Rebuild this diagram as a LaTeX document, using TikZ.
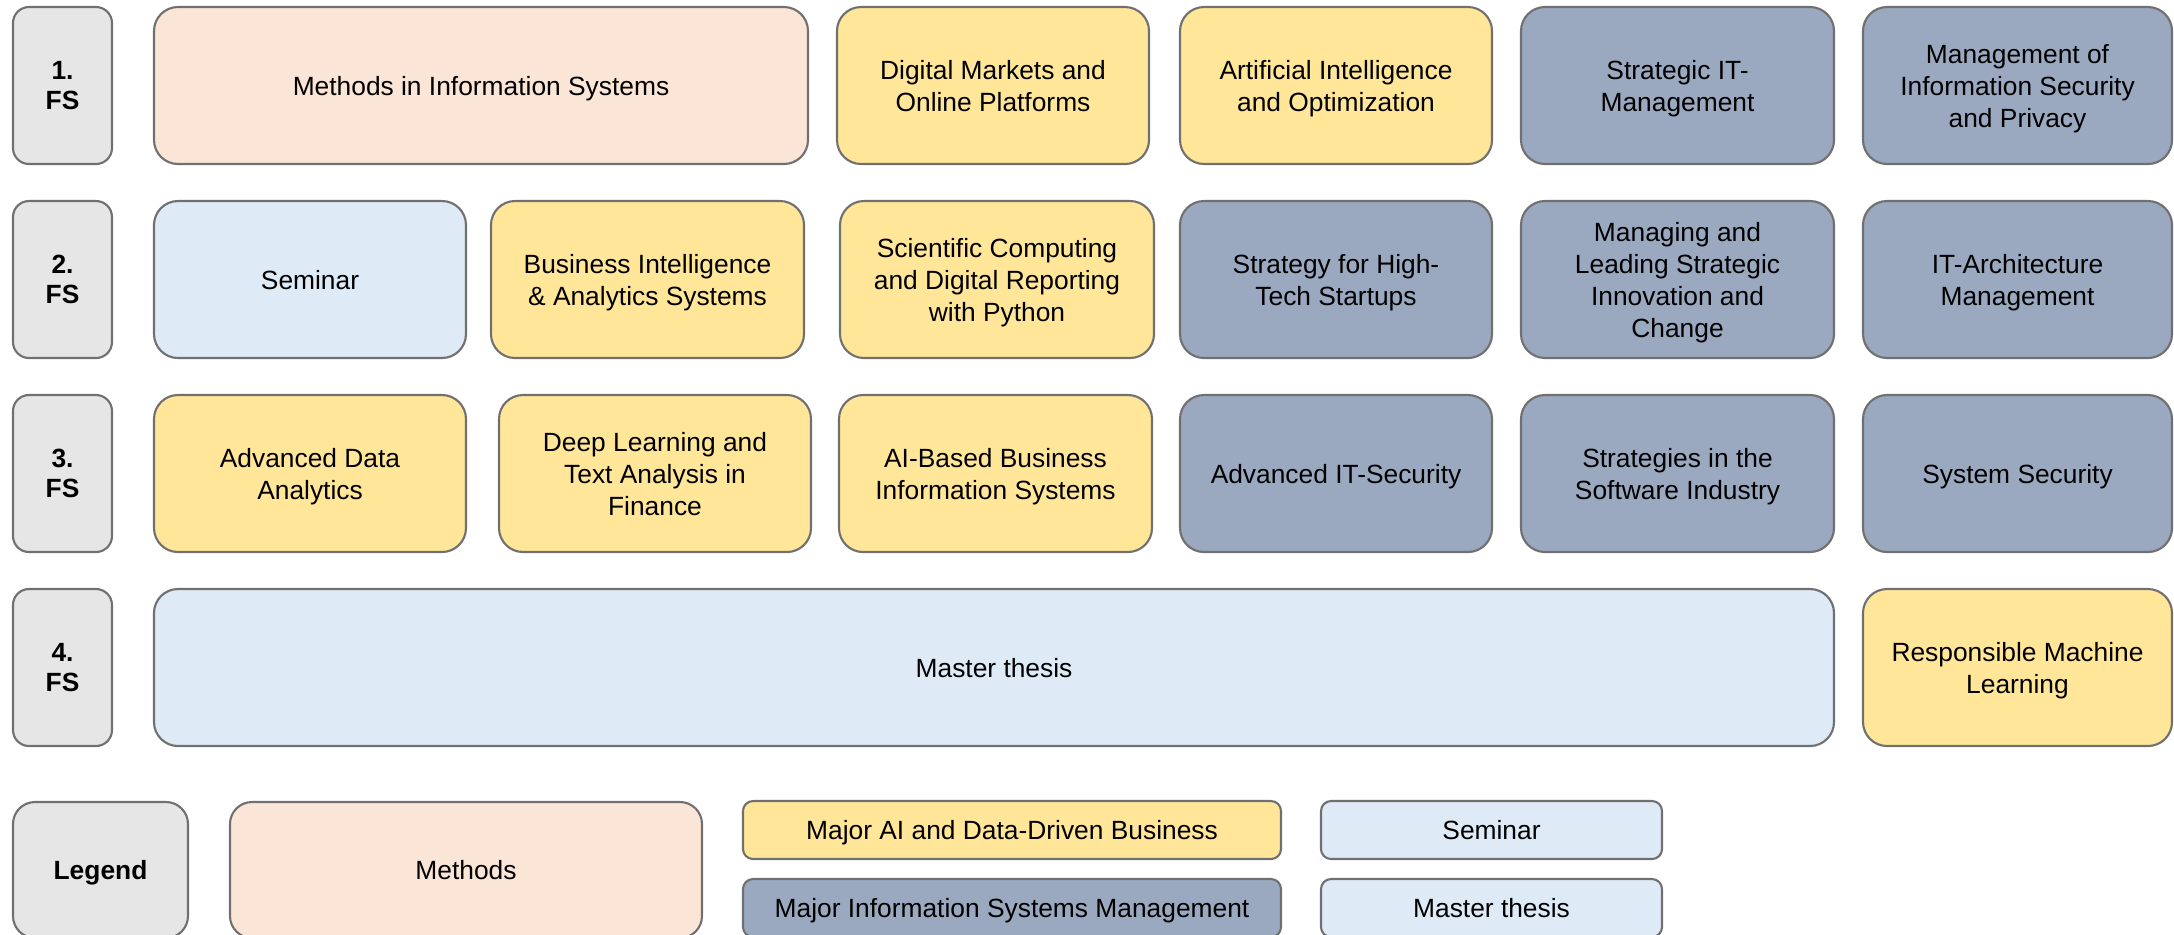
\documentclass[tikz,border=0pt]{standalone}
\usepackage{fontspec}
\setmainfont{Liberation Sans}
\usetikzlibrary{positioning}
\definecolor{labelgray}{HTML}{E6E6E6}
\definecolor{methodpeach}{HTML}{FBE5D6}
\definecolor{aiyellow}{HTML}{FFE699}
\definecolor{isblue}{HTML}{9AA9BF}
\definecolor{thesisblue}{HTML}{DEEAF6}
\definecolor{edgegray}{HTML}{707070}

\tikzset{
  box/.style={rectangle, draw=edgegray, line width=0.6pt, align=center, inner sep=0pt, text=black, text depth=0pt, font=\fontsize{7.5}{9.1}\selectfont},
  course/.style={box, rounded corners=0.24cm, minimum width=3.12cm, minimum height=1.57cm},
  semester/.style={box, fill=labelgray, rounded corners=0.16cm, minimum width=0.99cm, minimum height=1.57cm, text depth=-1.6pt, font=\fontsize{7.5}{8.65}\selectfont\bfseries},
  keybox/.style={box, rounded corners=0.1cm, minimum height=0.58cm},
  methods/.style={fill=methodpeach},
  aimajor/.style={fill=aiyellow},
  ismajor/.style={fill=isblue},
  seminar/.style={fill=thesisblue}
}

\begin{document}
\begin{tikzpicture}
\clip (0,0) rectangle (21.74,-9.34);

% Semester labels
\node[semester] (fs1) at (0.625,-0.855) {1.\\FS};
\node[semester] (fs2) at (0.625,-2.795) {2.\\FS};
\node[semester] (fs3) at (0.625,-4.735) {3.\\FS};
\node[semester] (fs4) at (0.625,-6.675) {4.\\FS};

% 1. FS
\node[course, methods, minimum width=6.54cm] (mis) at (4.81,-0.855) {Methods in Information Systems};
\node[course, aimajor] (dmop) at (9.93,-0.855) {Digital Markets and\\Online Platforms};
\node[course, aimajor] (aio) at (13.36,-0.855) {Artificial Intelligence\\and Optimization};
\node[course, ismajor, minimum width=3.13cm] (sitm) at (16.775,-0.855) {Strategic IT-\\Management};
\node[course, ismajor, minimum width=3.09cm] (misp) at (20.175,-0.855) {Management of\\Information Security\\and Privacy};

% 2. FS
\node[course, seminar] (sem) at (3.10,-2.795) {Seminar};
\node[course, aimajor, minimum width=3.13cm] (bias) at (6.475,-2.795) {Business Intelligence\\\& Analytics Systems};
\node[course, aimajor, minimum width=3.14cm] (scdr) at (9.97,-2.795) {Scientific Computing\\and Digital Reporting\\with Python};
\node[course, ismajor] (shts) at (13.36,-2.795) {Strategy for High-\\Tech Startups};
\node[course, ismajor, minimum width=3.13cm] (mlsi) at (16.775,-2.795) {Managing and\\Leading Strategic\\Innovation and\\Change};
\node[course, ismajor, minimum width=3.09cm] (itam) at (20.175,-2.795) {IT-Architecture\\Management};

% 3. FS
\node[course, aimajor] (ada) at (3.10,-4.735) {Advanced Data\\Analytics};
\node[course, aimajor] (dlta) at (6.55,-4.735) {Deep Learning and\\Text Analysis in\\Finance};
\node[course, aimajor, minimum width=3.13cm] (aibis) at (9.955,-4.735) {AI-Based Business\\Information Systems};
\node[course, ismajor] (aits) at (13.36,-4.735) {Advanced IT-Security};
\node[course, ismajor, minimum width=3.13cm] (ssi) at (16.775,-4.735) {Strategies in the\\Software Industry};
\node[course, ismajor, minimum width=3.09cm] (syss) at (20.175,-4.735) {System Security};

% 4. FS
\node[course, seminar, minimum width=16.80cm] (thesis) at (9.94,-6.675) {Master thesis};
\node[course, aimajor, minimum width=3.09cm] (rml) at (20.175,-6.675) {Responsible Machine\\Learning};

% Legend
\node[semester, rounded corners=0.22cm, minimum width=1.75cm, minimum height=1.36cm] (legend) at (1.005,-8.70) {Legend};
\node[box, methods, rounded corners=0.22cm, minimum width=4.72cm, minimum height=1.36cm] (kmethods) at (4.66,-8.70) {Methods};
\node[keybox, aimajor, minimum width=5.38cm] (kai) at (10.12,-8.30) {Major AI and Data-Driven Business};
\node[keybox, ismajor, minimum width=5.38cm] (kis) at (10.12,-9.08) {Major Information Systems Management};
\node[keybox, seminar, minimum width=3.41cm] (ksem) at (14.915,-8.30) {Seminar};
\node[keybox, seminar, minimum width=3.41cm] (kthesis) at (14.915,-9.08) {Master thesis};
\end{tikzpicture}
\end{document}
